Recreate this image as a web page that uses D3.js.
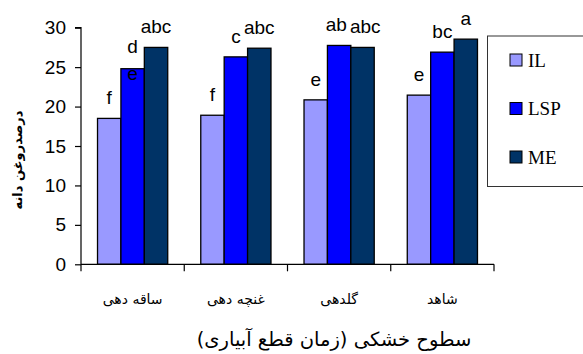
<!DOCTYPE html>
<html><head><meta charset="utf-8">
<script src="https://cdn.jsdelivr.net/npm/d3@7"></script>
<style>html,body{margin:0;padding:0;background:#fff;}</style>
</head><body>
<svg id="c" width="583" height="354"></svg>
<script>
const categories = ["ساقه دهی", "غنچه دهی", "گلدهی", "شاهد"];
const seriesNames = ["IL", "LSP", "ME"];
const IL  = [18.5, 18.9, 20.85, 21.45];
const LSP = [24.8, 26.3, 27.75, 26.9];
const ME  = [27.5, 27.4, 27.5, 28.55];
const lettersIL  = ["f", "f", "e", "e"];
const lettersLSP = ["d\ne", "c", "ab", "bc"];
const lettersME  = ["abc", "abc", "abc", "a"];
const yTicks = [0, 5, 10, 15, 20, 25, 30];
const yTitle = "درصدروغن دانه";
const xTitle = "سطوح خشکی (زمان قطع آبیاری)";
const colors = ["#9999FF", "#0000FF", "#003366"];

const series = [IL, LSP, ME];
const letters = [lettersIL, lettersLSP, lettersME];

const svg = d3.select("#c");
const mLeft = 81, mRight = 494, mTop = 27.7, mBottom = 264.3;

const x = d3.scaleBand().domain(categories).range([mLeft, mRight]).paddingInner(0.32).paddingOuter(0.16);
const xi = d3.scaleBand().domain(seriesNames).range([0, x.bandwidth()]);
const y = d3.scaleLinear().domain([0, 30]).range([mBottom, mTop]);

// bars
categories.forEach((c, ci) => {
  seriesNames.forEach((s, si) => {
    const v = series[si][ci];
    svg.append("rect")
      .attr("x", x(c) + xi(s))
      .attr("y", y(v))
      .attr("width", xi.bandwidth())
      .attr("height", y(0) - y(v))
      .attr("fill", colors[si])
      .attr("stroke", "#000")
      .attr("stroke-width", 1.3);
  });
});

// letters (with simple horizontal de-overlap inside each group)
categories.forEach((c, ci) => {
  const placed = [];
  seriesNames.forEach((s, si) => {
    const v = series[si][ci];
    const lines = letters[si][ci].split("\n");
    const cx = x(c) + xi(s) + xi.bandwidth() / 2;
    lines.forEach((t, li) => {
      const yy = lines.length > 1 ? y(v) - 16 + li * 27 : y(v) - 14;
      const el = svg.append("text")
        .attr("x", cx)
        .attr("y", yy)
        .attr("text-anchor", "middle")
        .attr("font-family", "Liberation Sans, Arial, sans-serif")
        .attr("font-size", 19)
        .attr("fill", "#000")
        .text(t);
      if (li === 0) placed.push({el, cx, yy, w: el.node().getComputedTextLength()});
    });
  });
  for (let i = 0; i < placed.length - 1; i++) {
    const a = placed[i], b = placed[i + 1];
    if (Math.abs(a.yy - b.yy) < 14) {
      const need = (a.w + b.w) / 2 + 3 - (b.cx - a.cx);
      if (need > 0) {
        a.cx -= need / 2; b.cx += need / 2;
        a.el.attr("x", a.cx); b.el.attr("x", b.cx);
      }
    }
  }
});

// y axis
const yAxis = d3.axisLeft(y).tickValues(yTicks).tickSize(6).tickPadding(9);
const gy = svg.append("g").attr("transform", `translate(${mLeft},0)`).call(yAxis);
gy.select(".domain").attr("stroke", "#000").attr("stroke-width", 1.2).attr("d", `M-6,${mTop}H0V${mBottom}`);
gy.selectAll(".tick line").attr("stroke", "#000").attr("stroke-width", 1.2);
gy.selectAll(".tick text").attr("font-family", "Liberation Sans, Arial, sans-serif").attr("font-size", 19).attr("fill", "#000");

// x axis
const gx = svg.append("g").attr("transform", `translate(0,${mBottom})`);
gx.append("line").attr("x1", mLeft).attr("x2", mRight).attr("y1", 0).attr("y2", 0).attr("stroke", "#000").attr("stroke-width", 1.2);
const bounds = categories.map(c => x(c) - x.step() * x.paddingInner() / 2);
bounds[0] = mLeft;
bounds.push(mRight);
gx.selectAll("line.tk").data(bounds).enter().append("line")
  .attr("x1", d => d).attr("x2", d => d).attr("y1", 0).attr("y2", 7)
  .attr("stroke", "#000").attr("stroke-width", 1.2);
gx.selectAll("text.cat").data(categories).enter().append("text")
  .attr("x", d => x(d) + x.bandwidth() / 2)
  .attr("y", 40)
  .attr("text-anchor", "middle")
  .attr("direction", "rtl")
  .attr("font-family", "DejaVu Sans, sans-serif")
  .attr("font-size", 14)
  .attr("fill", "#000")
  .text(d => d);

// titles
svg.append("text")
  .attr("transform", `translate(22,160) rotate(-90)`)
  .attr("text-anchor", "middle")
  .attr("direction", "rtl")
  .attr("font-family", "DejaVu Sans, sans-serif")
  .attr("font-weight", "bold")
  .attr("font-size", 13)
  .attr("fill", "#000")
  .text(yTitle);

svg.append("text")
  .attr("x", 334).attr("y", 346)
  .attr("text-anchor", "middle")
  .attr("direction", "rtl")
  .attr("font-family", "DejaVu Sans, sans-serif")
  .attr("font-size", 19.5)
  .attr("fill", "#000")
  .text(xTitle);

// legend
const lg = svg.append("g");
lg.append("rect").attr("x", 487.5).attr("y", 36).attr("width", 120).attr("height", 150.5)
  .attr("fill", "#fff").attr("stroke", "#333").attr("stroke-width", 1);
seriesNames.forEach((s, i) => {
  const cy = 60 + i * 48.5;
  lg.append("rect").attr("x", 510).attr("y", cy - 6).attr("width", 12).attr("height", 12)
    .attr("fill", colors[i]).attr("stroke", "#000").attr("stroke-width", 1);
  lg.append("text").attr("x", 528).attr("y", cy + 6.5)
    .attr("font-family", "Liberation Serif, Times New Roman, serif")
    .attr("font-size", 19).attr("fill", "#000").text(s);
});
</script>
</body></html>
